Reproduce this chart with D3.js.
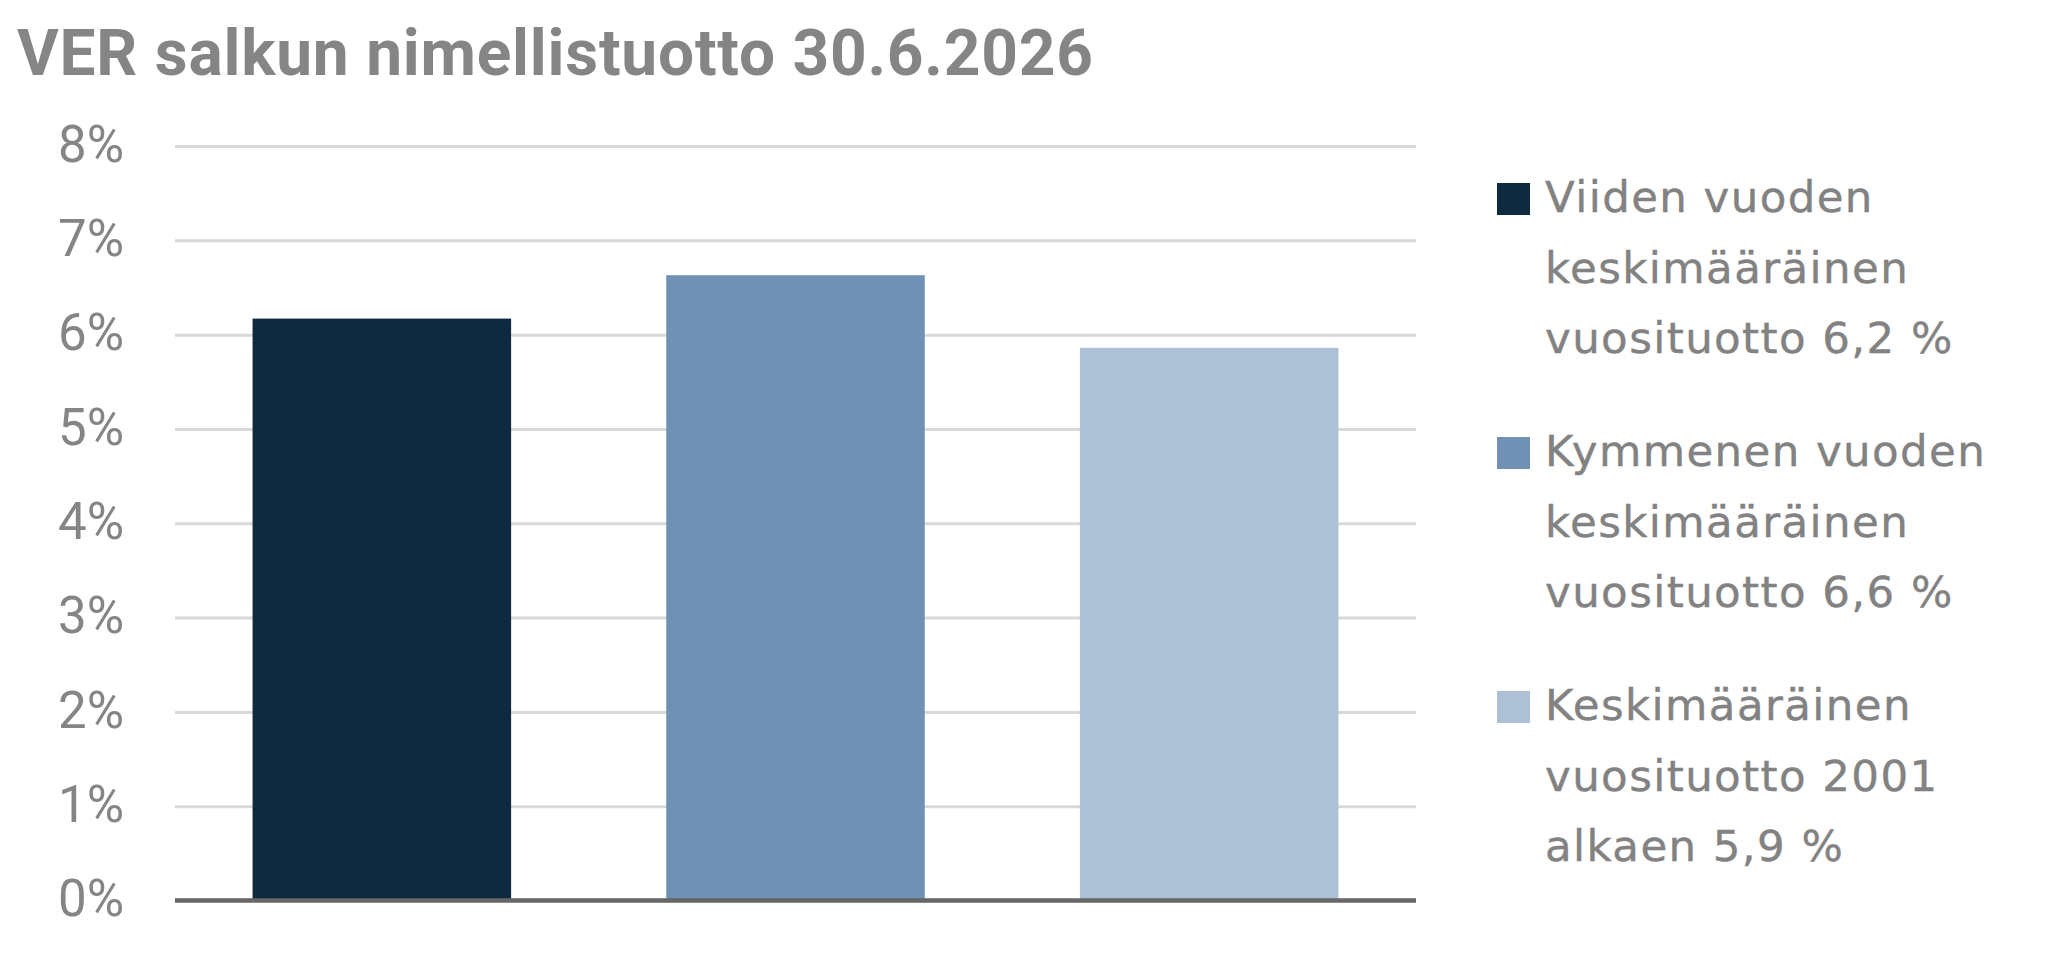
<!DOCTYPE html>
<html>
<head>
<meta charset="utf-8">
<script src="https://cdn.jsdelivr.net/npm/d3@7"></script>
<style>
  html, body { margin: 0; padding: 0; background: #ffffff; }
  svg { display: block; }
</style>
</head>
<body>
<svg id="chart" width="2058" height="956"></svg>
<script>
// ---- Data ----
const title = "VER salkun nimellistuotto 30.6.2026";
const categories = ["5v", "10v", "2001"];
const values = [6.17, 6.63, 5.86];
const colors = ["#0e2a40", "#7191b4", "#aec0d6"];
const yTicks = [0, 1, 2, 3, 4, 5, 6, 7, 8];
const legendLines = [
  ["Viiden vuoden", "keskimääräinen", "vuosituotto 6,2 %"],
  ["Kymmenen vuoden", "keskimääräinen", "vuosituotto 6,6 %"],
  ["Keskimääräinen", "vuosituotto 2001", "alkaen 5,9 %"]
];

// ---- Layout ----
const svg = d3.select("#chart");
const plot = { left: 175, right: 1416, top: 146, bottom: 900.5 };
const textGray = "#858585";

const x = d3.scaleBand()
  .domain(categories)
  .range([plot.left, plot.right])
  .paddingInner(0.375)
  .paddingOuter(0.1875);

const y = d3.scaleLinear()
  .domain([0, 8])
  .range([plot.bottom, plot.top]);

// Title
const t = svg.append("text")
  .attr("x", 17)
  .attr("y", 75)
  .attr("font-family", "Roboto, sans-serif")
  .attr("font-weight", 700)
  .attr("font-size", 64)
  .attr("fill", textGray)
  .text(title);
{
  const target = 1076;
  const len = t.node().getComputedTextLength();
  const ls = (target - len) / (title.length - 1);
  t.attr("letter-spacing", ls.toFixed(2));
}

// Gridlines
const grid = svg.append("g")
  .attr("transform", `translate(${plot.left},0)`)
  .call(d3.axisLeft(y).tickValues(yTicks.filter(d => d > 0)).tickSize(-(plot.right - plot.left)).tickFormat(""));
grid.select(".domain").remove();
grid.selectAll(".tick line").attr("stroke", "#d9d9d9").attr("stroke-width", 3);

// Y tick labels
const yAxis = svg.append("g")
  .attr("transform", `translate(124,0)`)
  .call(d3.axisLeft(y).tickValues(yTicks).tickSize(0).tickPadding(0).tickFormat(d => d + "%"));
yAxis.select(".domain").remove();
yAxis.selectAll(".tick text")
  .attr("font-family", "Roboto, sans-serif")
  .attr("font-size", 51)
  .attr("fill", textGray)
  .attr("dy", "0.3em");

// Bars
svg.append("g").selectAll("rect")
  .data(values)
  .join("rect")
  .attr("x", (d, i) => x(categories[i]))
  .attr("width", x.bandwidth())
  .attr("y", d => y(d))
  .attr("height", d => y(0) - y(d))
  .attr("fill", (d, i) => colors[i]);

// Zero axis line
svg.append("line")
  .attr("x1", plot.left)
  .attr("x2", plot.right)
  .attr("y1", y(0))
  .attr("y2", y(0))
  .attr("stroke", "#666666")
  .attr("stroke-width", 4.5);

// Legend
const legend = svg.append("g");
const legendTop = 183, groupGap = 254, lineH = 70.5;
legendLines.forEach((lines, i) => {
  const g = legend.append("g").attr("transform", `translate(0,${legendTop + i * groupGap})`);
  g.append("rect")
    .attr("x", 1497).attr("y", 0)
    .attr("width", 33).attr("height", 32)
    .attr("fill", colors[i]);
  lines.forEach((ln, j) => {
    g.append("text")
      .attr("x", 1545)
      .attr("y", 29 + j * lineH)
      .attr("font-family", "'DejaVu Sans', sans-serif")
      .attr("font-size", 43.5)
      .attr("letter-spacing", 1.4)
      .attr("fill", "#828282")
      .attr("stroke", "#828282")
      .attr("stroke-width", 0.4)
      .text(ln);
  });
});
</script>
</body>
</html>
